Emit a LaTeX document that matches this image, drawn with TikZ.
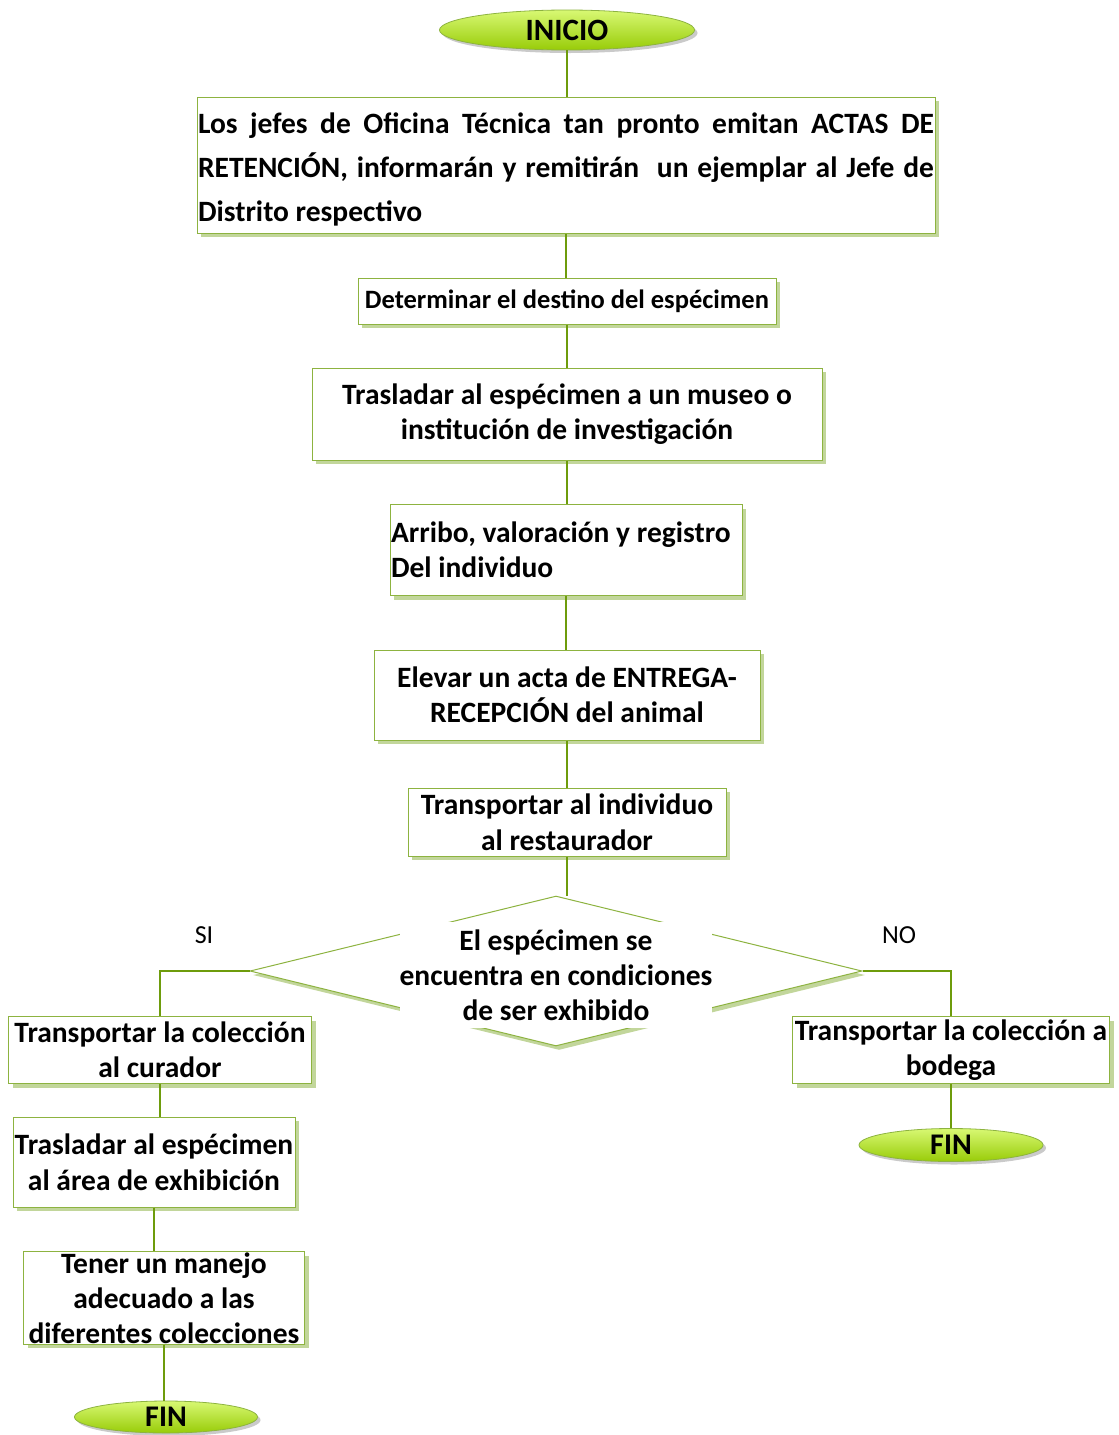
\documentclass[tikz,border=0pt]{standalone}
\usepackage{fontspec}
\setmainfont{Carlito}
\usetikzlibrary{shapes.geometric,shadows}
\definecolor{boxline}{HTML}{8DB340}
\definecolor{shade}{HTML}{C2D69B}
\definecolor{linkgreen}{HTML}{6E9C0C}
\definecolor{limetop}{HTML}{D8F873}
\definecolor{limebot}{HTML}{98CC08}
\tikzset{
  proc/.style={draw=boxline, line width=1pt, fill=white, inner sep=1pt, align=center,
    font=\bfseries\fontsize{29.5}{35}\selectfont,
    drop shadow={shadow xshift=4pt, shadow yshift=-4pt, fill=shade, opacity=1}},
  term/.style={ellipse, draw=boxline, line width=0.8pt, top color=limetop, bottom color=limebot,
    inner sep=0pt, font=\bfseries\fontsize{31}{32}\selectfont,
    drop shadow={shadow xshift=3pt, shadow yshift=-3pt, fill=black!35, opacity=0.6}},
  link/.style={draw=linkgreen, line width=2.6pt},
}
\begin{document}
\begin{tikzpicture}[x=1pt, y=-1pt]
\useasboundingbox (0,0) rectangle (1119,1435);
% main column
\node[term, minimum width=255pt, minimum height=40pt] (ini) at (567,30) {INICIO};
\node[proc, minimum width=738pt, minimum height=136pt, text width=736pt, align=justify,
  font=\bfseries\fontsize{29.5}{44}\selectfont] (b1) at (566,165)
  {\rule{0pt}{30pt}Los jefes de Oficina Técnica tan pronto emitan ACTAS DE\linebreak
   RETENCIÓN, informarán y remitirán\ \ un ejemplar al Jefe de\linebreak
   Distrito respectivo};
\node[proc, minimum width=418pt, minimum height=46pt, font=\bfseries\fontsize{26.5}{30}\selectfont] (b2) at (567,301)
  {Determinar el destino del espécimen};
\node[proc, minimum width=510pt, minimum height=92pt] (b3) at (567,414)
  {Trasladar al espécimen a un museo o\\institución de investigación};
\node[proc, minimum width=352pt, minimum height=91pt, text width=350pt, align=flush left] (b4) at (566,550)
  {Arribo, valoración y registro\\Del individuo};
\node[proc, minimum width=386pt, minimum height=90pt] (b5) at (567,695)
  {Elevar un acta de ENTREGA-\\RECEPCIÓN del animal};
\node[proc, minimum width=318pt, minimum height=68pt, font=\bfseries\fontsize{29.5}{36}\selectfont] (b6) at (567,822)
  {Transportar al individuo\\al restaurador};
% decision
\node[diamond, draw=boxline, line width=1pt, fill=white, inner sep=0pt,
  minimum width=612pt, minimum height=150pt,
  drop shadow={shadow xshift=3pt, shadow yshift=-4pt, fill=shade, opacity=1}] (dia) at (556,971) {};
\node[fill=white, minimum width=312pt, minimum height=106pt, inner sep=0pt, align=center,
  font=\bfseries\fontsize{29.5}{35}\selectfont] (q) at (556,975)
  {El espécimen se\\encuentra en condiciones\\de ser exhibido};
\node[font=\fontsize{26}{28}\selectfont] (si) at (204,935) {SI};
\node[font=\fontsize{26}{28}\selectfont] (no) at (899,935) {NO};
% left branch
\node[proc, minimum width=303pt, minimum height=67pt] (b7) at (160,1050)
  {Transportar la colección\\al curador};
\node[proc, minimum width=282pt, minimum height=90pt, font=\bfseries\fontsize{29.5}{36}\selectfont] (b8) at (154,1162)
  {Trasladar al espécimen\\al área de exhibición};
\node[proc, minimum width=281pt, minimum height=90pt] (b9) at (164,1298)
  {Tener un manejo\\adecuado a las\\diferentes colecciones};
\node[term, minimum width=183pt, minimum height=32pt, font=\bfseries\fontsize{30}{32}\selectfont] (fin1) at (166,1417) {FIN};
% right branch
\node[proc, minimum width=317pt, minimum height=67pt] (b10) at (951,1050)
  {Transportar la colección a\\bodega};
\node[term, minimum width=184pt, minimum height=33pt, font=\bfseries\fontsize{30}{32}\selectfont] (fin2) at (951,1145) {FIN};
% connectors
\begin{scope}[link]
\draw (ini.south) -- (ini.south |- b1.north);
\draw (b1.south) -- (b1.south |- b2.north);
\draw (b2.south) -- (b2.south |- b3.north);
\draw (b3.south) -- (b3.south |- b4.north);
\draw (b4.south) -- (b4.south |- b5.north);
\draw (b5.south) -- (b5.south |- b6.north);
\draw (b6.south) -- (b6.south |- dia.north);
\draw (dia.west) -| (b7.north);
\draw (dia.east) -| (b10.north);
\draw (b7.south) -- (b7.south |- b8.north);
\draw (b8.south) -- (b8.south |- b9.north);
\draw (b9.south) -- (b9.south |- fin1.north);
\draw (b10.south) -- (b10.south |- fin2.north);
\end{scope}
\end{tikzpicture}
\end{document}
